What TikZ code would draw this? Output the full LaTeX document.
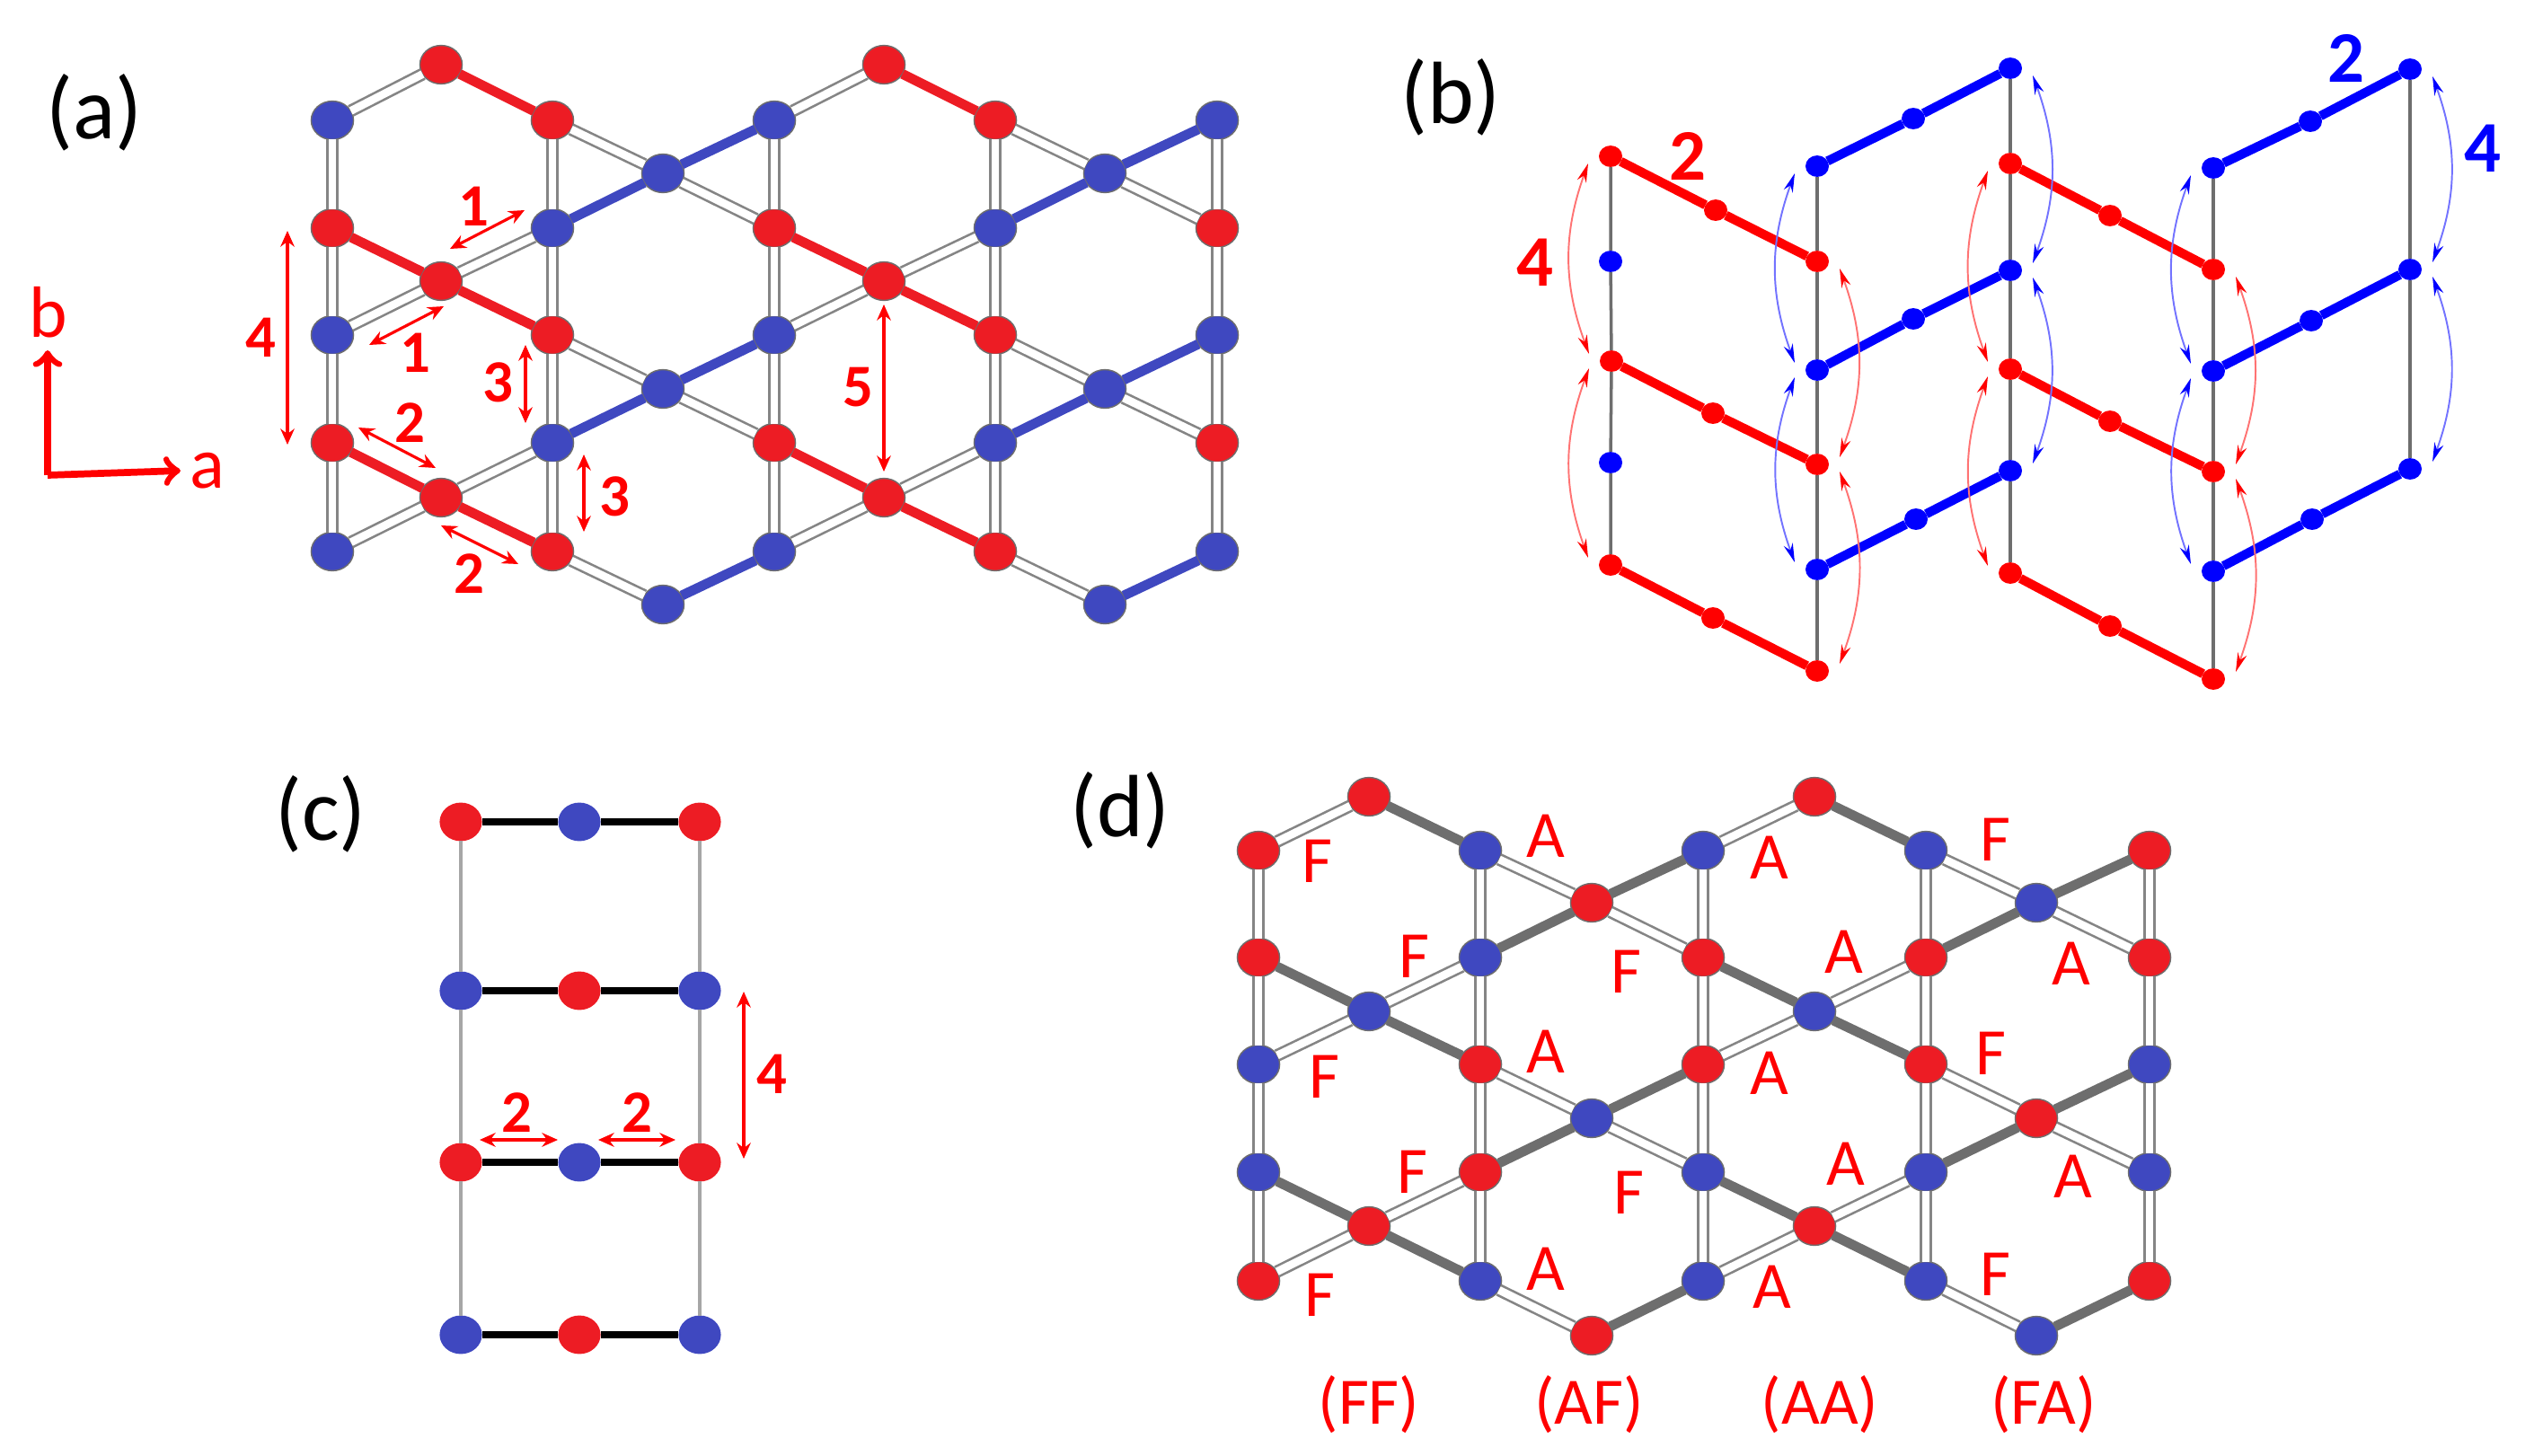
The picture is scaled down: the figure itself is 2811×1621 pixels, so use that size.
\documentclass[tikz,border=0pt]{standalone}
\usepackage{fontspec}
\setmainfont{Carlito}
\usetikzlibrary{shapes.geometric,arrows.meta}
\definecolor{atomred}{HTML}{ED1C24}
\definecolor{atomblue}{HTML}{3F48C0}
\definecolor{bondgray}{HTML}{6E6E6E}
\definecolor{rimgray}{HTML}{858585}
\begin{document}
\begin{tikzpicture}[x=0.01cm,y=-0.01cm]
        \tikzstyle{atom}=[ellipse,draw=bondgray,line width=0.4pt,inner sep=0pt,outer sep=0pt,minimum width=13.4pt,minimum height=12.2pt]
        \tikzstyle{dbond}=[draw=rimgray,line width=0.75pt,double=white,double distance=2.5pt]
        \tikzstyle{tbond}=[line width=3.1pt]
        \tikzstyle{dot}=[ellipse,inner sep=0pt,outer sep=0pt,minimum width=7.4pt,minimum height=6.8pt]
        \tikzstyle{rod}=[draw=bondgray,line width=1pt]
        \tikzstyle{dim}=[red,line width=0.9pt,{Stealth[length=5pt,width=4.4pt]}-{Stealth[length=5pt,width=4.4pt]}]
        \tikzstyle{arcred}=[draw=red!55,line width=0.55pt,{Stealth[length=6pt,width=3pt,color=red]}-{Stealth[length=6pt,width=3pt,color=red]}]
        \tikzstyle{arcblue}=[draw=blue!55,line width=0.55pt,{Stealth[length=6pt,width=3pt,color=blue]}-{Stealth[length=6pt,width=3pt,color=blue]}]
        \tikzstyle{panel}=[inner sep=0pt,font=\fontsize{28}{28}\selectfont]
        \tikzstyle{num}=[inner sep=0pt,text=red,font=\fontsize{19}{19}\selectfont\bfseries]
        \tikzstyle{bignum}=[inner sep=0pt,font=\fontsize{23}{23}\selectfont\bfseries]
        \tikzstyle{spin}=[inner sep=0pt,text=red,font=\fontsize{21}{21}\selectfont]
        \useasboundingbox (0,0) rectangle (2811,1621);
        % panel labels
        \foreach \n/\x/\y/\t in {pa/105/125/(a),pb/1615/108/(b),pc/357/906/(c),pd/1247/902/(d)}
            \node[panel] (\n) at (\x,\y) {\t};
        % (a) atoms
        \foreach \n/\x/\y/\c in {
            1B/370/134/atomblue,1D/370/254/atomred,1F/370/373/atomblue,1H/370/493/atomred,1J/370/614/atomblue,
            2A/491/72/atomred,2E/491/313/atomred,2I/491/554/atomred,
            3B/615/134/atomred,3D/615/254/atomblue,3F/615/373/atomred,3H/615/493/atomblue,3J/615/614/atomred,
            4C/738/193/atomblue,4G/738/433/atomblue,4K/738/673/atomblue,
            5B/862/134/atomblue,5D/862/254/atomred,5F/862/373/atomblue,5H/862/493/atomred,5J/862/614/atomblue,
            6A/984/72/atomred,6E/984/313/atomred,6I/984/554/atomred,
            7B/1108/134/atomred,7D/1108/254/atomblue,7F/1108/373/atomred,7H/1108/493/atomblue,7J/1108/614/atomred,
            8C/1230/193/atomblue,8G/1230/433/atomblue,8K/1230/673/atomblue,
            9B/1355/134/atomblue,9D/1355/254/atomred,9F/1355/373/atomblue,9H/1355/493/atomred,9J/1355/614/atomblue}
            \node[atom,fill=\c] (a\n) at (\x,\y) {};
        % (d) atoms
        \foreach \n/\x/\y/\c in {
            1B/1401/947/atomred,1D/1401/1066/atomred,1F/1401/1185/atomblue,1H/1401/1305/atomblue,1J/1401/1426/atomred,
            2A/1524/887/atomred,2E/1524/1126/atomblue,2I/1524/1365/atomred,
            3B/1648/947/atomblue,3D/1648/1066/atomblue,3F/1648/1185/atomred,3H/1648/1305/atomred,3J/1648/1426/atomblue,
            4C/1772/1005/atomred,4G/1772/1245/atomblue,4K/1772/1487/atomred,
            5B/1896/947/atomblue,5D/1896/1066/atomred,5F/1896/1185/atomred,5H/1896/1305/atomblue,5J/1896/1426/atomblue,
            6A/2020/887/atomred,6E/2020/1126/atomblue,6I/2020/1365/atomred,
            7B/2144/947/atomblue,7D/2144/1066/atomred,7F/2144/1185/atomred,7H/2144/1305/atomblue,7J/2144/1426/atomblue,
            8C/2267/1005/atomblue,8G/2267/1245/atomred,8K/2267/1487/atomblue,
            9B/2393/947/atomred,9D/2393/1066/atomred,9F/2393/1185/atomblue,9H/2393/1305/atomblue,9J/2393/1426/atomred}
            \node[atom,fill=\c] (d\n) at (\x,\y) {};
        % double bonds are the same in both lattices
        \foreach \p in {a,d}
            \foreach \s/\t in {1B/1D,1D/1F,1F/1H,1H/1J,3B/3D,3D/3F,3F/3H,3H/3J,5B/5D,5D/5F,5F/5H,5H/5J,7B/7D,7D/7F,7F/7H,7H/7J,9B/9D,9D/9F,9F/9H,9H/9J,
                1B/2A,3B/4C,4C/5D,5B/6A,7B/8C,8C/9D,3D/2E,2E/1F,3F/4G,4G/5H,7D/6E,6E/5F,7F/8G,8G/9H,3H/2I,2I/1J,3J/4K,7H/6I,6I/5J,7J/8K}
                \draw[dbond] (\p\s) -- (\p\t);
        \foreach \s/\t in {2A/3B,1D/2E,2E/3F,5D/6E,6E/7F,6A/7B,1H/2I,2I/3J,5H/6I,6I/7J}
            \draw[tbond,atomred] (a\s) -- (a\t);
        \foreach \s/\t in {5B/4C,4C/3D,9B/8C,8C/7D,5F/4G,4G/3H,9F/8G,8G/7H,5J/4K,9J/8K}
            \draw[tbond,atomblue] (a\s) -- (a\t);
        \foreach \s/\t in {2A/3B,1D/2E,2E/3F,5D/6E,6E/7F,6A/7B,1H/2I,2I/3J,5H/6I,6I/7J,5B/4C,4C/3D,9B/8C,8C/7D,5F/4G,4G/3H,9F/8G,8G/7H,5J/4K,9J/8K}
            \draw[tbond,bondgray] (d\s) -- (d\t);
        % (a) and (c) distances
        \foreach \n/\xa/\ya/\xb/\yb in {
            one/501/277/584/234,two/411/384/494/341,thr/320/257/320/495,fou/585/384/585/471,
            fiv/650/506/650/592,six/984/339/984/525,sev/399/476/485/521,eig/491/585/577/628,
            nin/534/1269/621/1269,ten/666/1269/752/1269,ele/828/1104/828/1290}{
            \coordinate (\n s) at (\xa,\ya);
            \coordinate (\n e) at (\xb,\yb);
            \draw[dim] (\n s) -- (\n e);
        }
        \foreach \n/\x/\y/\t in {
            na/527/230/1,nb/462/393/1,nc/290/376/4,nd/554/426/3,ne/684/553/3,nf/955/431/5,ng/456/471/2,nh/522/639/2,
            ni/575/1239/2,nj/709/1239/2,nk/859/1196/4}
            \node[num] (\n) at (\x,\y) {\t};
        % axes
        \coordinate (corner) at (53,529);
        \coordinate (tipb) at (53,390);
        \coordinate (tipa) at (201,524);
        \draw[red,line width=2.2pt,-to] (corner) -- (tipb);
        \draw[red,line width=2.2pt,-to] (corner) -- (tipa);
        \node[spin,font=\fontsize{23}{23}\selectfont] (axb) at (54,348) {b};
        \node[spin,font=\fontsize{23}{23}\selectfont] (axa) at (231,524) {a};
        % (b) chains
        \foreach \n/\x/\y in {
            r1a/1793/174,r1b/1910/234,r1c/2023/291,r2a/1794/402,r2b/1907/460,r2c/2023/517,
            r3a/1793/629,r3b/1907/688,r3c/2023/747,r4a/2238/182,r4b/2349/240,r4c/2464/300,
            r5a/2238/411,r5b/2349/469,r5c/2464/525,r6a/2238/638,r6b/2349/697,r6c/2464/756}
            \node[dot,fill=red] (\n) at (\x,\y) {};
        \foreach \n/\x/\y in {
            s1a/2023/185,s1b/2130/132,s1c/2238/76,s2a/2023/412,s2b/2130/355,s2c/2238/301,
            s3a/2023/634,s3b/2133/578,s3c/2238/524,s4a/2464/187,s4b/2572/135,s4c/2683/77,
            s5a/2464/413,s5b/2573/357,s5c/2683/300,s6a/2464/636,s6b/2574/578,s6c/2683/522,
            s7/1793/291,s8/1793/515}
            \node[dot,fill=blue] (\n) at (\x,\y) {};
        \draw[rod] (r1a) -- (s7) -- (r2a) -- (s8) -- (r3a);
        \draw[rod] (s1a) -- (r1c) -- (s2a) -- (r2c) -- (s3a) -- (r3c);
        \draw[rod] (s1c) -- (r4a) -- (s2c) -- (r5a) -- (s3c) -- (r6a);
        \draw[rod] (s4a) -- (r4c) -- (s5a) -- (r5c) -- (s6a) -- (r6c);
        \draw[rod] (s4c) -- (s5c) -- (s6c);
        \foreach \k in {1,...,6}{
            \draw[red,line width=2.9pt] (r\k a) -- (r\k b) -- (r\k c);
            \draw[blue,line width=2.9pt] (s\k a) -- (s\k b) -- (s\k c);
        }
        \foreach \s/\t in {r1a/r2a,r2a/r3a,r4a/r5a,r5a/r6a}
            \draw[arcred] ([shift={(-25,8)}]\s.center) to[bend right=20] ([shift={(-25,-8)}]\t.center);
        \foreach \s/\t in {r1c/r2c,r2c/r3c,r4c/r5c,r5c/r6c}
            \draw[arcred] ([shift={(25,8)}]\s.center) to[bend left=20] ([shift={(25,-8)}]\t.center);
        \foreach \s/\t in {s1a/s2a,s2a/s3a,s4a/s5a,s5a/s6a}
            \draw[arcblue] ([shift={(-25,8)}]\s.center) to[bend right=20] ([shift={(-25,-8)}]\t.center);
        \foreach \s/\t in {s1c/s2c,s2c/s3c,s4c/s5c,s5c/s6c}
            \draw[arcblue] ([shift={(25,8)}]\s.center) to[bend left=20] ([shift={(25,-8)}]\t.center);
        \node[bignum,text=red] (ra) at (1879,174) {2};
        \node[bignum,text=red] (rb) at (1709,292) {4};
        \node[bignum,text=blue] (ba) at (2612,65) {2};
        \node[bignum,text=blue] (bb) at (2764,165) {4};
        % (c) ladder
        \foreach \n/\x/\y/\c in {
            c1/513/915/atomred,c2/645/915/atomblue,c3/779/915/atomred,
            c4/513/1103/atomblue,c5/645/1103/atomred,c6/779/1103/atomblue,
            c7/513/1294/atomred,c8/645/1294/atomblue,c9/779/1294/atomred,
            c10/513/1486/atomblue,c11/645/1486/atomred,c12/779/1486/atomblue}
            \node[atom,fill=\c,draw=none] (\n) at (\x,\y) {};
        \foreach \s/\t in {c1/c4,c4/c7,c7/c10,c3/c6,c6/c9,c9/c12}
            \draw[gray!70,line width=1.1pt] (\s) -- (\t);
        \foreach \s/\t in {c1/c2,c2/c3,c4/c5,c5/c6,c7/c8,c8/c9,c10/c11,c11/c12}
            \draw[black,line width=2.5pt] (\s) -- (\t);
        % (d) spin labels
        \foreach \n/\x/\y/\t in {
            sa/1466/959/F,sb/1721/931/A,sc/1970/955/A,sd/2221/935/F,
            se/1574/1065/F,sf/1810/1082/F,sg/2053/1060/A,sh/2306/1073/A,
            si/1474/1199/F,sj/1721/1171/A,sk/1970/1195/A,sl/2216/1173/F,
            sm/1572/1305/F,sn/1813/1328/F,so/2055/1296/A,sp/2308/1310/A,
            sq/1469/1442/F,sr/1721/1413/A,st/1973/1433/A,su/2221/1419/F,
            tff/1524/1564/(FF),taf/1769/1564/(AF),taa/2026/1564/(AA),tfa/2275/1564/(FA)}
            \node[spin] (\n) at (\x,\y) {\t};
\end{tikzpicture}
\end{document}
